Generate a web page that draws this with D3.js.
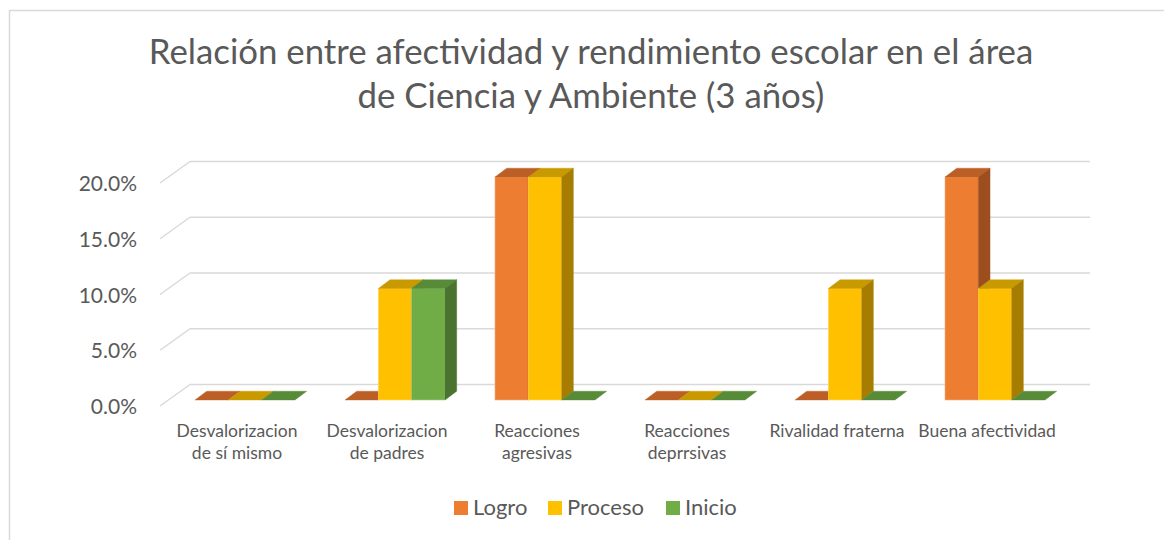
<!DOCTYPE html>
<html>
<head>
<meta charset="utf-8">
<script src="https://cdn.jsdelivr.net/npm/d3@7"></script>
<style>
  body { margin: 0; background: #fff; }
  svg text { font-family: Lato, "Open Sans", sans-serif; fill: #595959; }
</style>
</head>
<body>
<script>
// chart data
const categories = ["Desvalorizacion de sí mismo", "Desvalorizacion de padres", "Reacciones agresivas",
   "Reacciones deprrsivas", "Rivalidad fraterna", "Buena afectividad"];
const seriesNames = ["Logro", "Proceso", "Inicio"];
const logro = [0, 0, 0.2, 0, 0, 0.2];
const proceso = [0, 0.1, 0.2, 0, 0.1, 0.1];
const inicio = [0, 0.1, 0, 0, 0, 0];
const yTicks = [0, 0.05, 0.1, 0.15, 0.2];
const titleLines = ["Relación entre afectividad y rendimiento escolar en el área", "de Ciencia y Ambiente (3 años)"];

const colors = {
   Logro: { front: "#ED7D31", top: "#BB5F27", side: "#9C4E1E", edge: "#F4B183" },
   Proceso: { front: "#FFC000", top: "#C99A00", side: "#A67D00", edge: "#FFD966" },
   Inicio: { front: "#70AD47", top: "#578B37", side: "#4A7330", edge: "#A9D18E" }
};

const values = { Logro: logro, Proceso: proceso, Inicio: inicio };

const width = 1164, height = 540;

const svg = d3.select("body").append("svg")
   .attr("width", width)
   .attr("height", height);

// outer chart border
svg.append("rect")
   .attr("x", 9.5).attr("y", 10.5)
   .attr("width", 1300).attr("height", 700)
   .attr("fill", "none")
   .attr("stroke", "#d9d9d9")
   .attr("stroke-width", 1.5);

// title
svg.append("text")
   .attr("x", 591).attr("y", 64)
   .attr("text-anchor", "middle")
   .style("font-size", "34.8px")
   .selectAll("tspan")
   .data(titleLines)
   .enter().append("tspan")
   .attr("x", 591)
   .attr("dy", (d, i) => i === 0 ? 0 : 44)
   .text(d => d);

// scales (bar front plane)
const x0 = d3.scaleBand().domain(categories).range([170, 1070]).paddingInner(0).paddingOuter(0);
const x1 = d3.scaleBand().domain(seriesNames).range([25, x0.bandwidth() - 25]);
const y = d3.scaleLinear().domain([0, 0.2]).range([400, 177]);

// depth offsets relative to the bar front plane
const frontOff = [-8, 6];
const backOff = [20, -15.5];
const barDepth = [11.7, -8.8];

// walls / gridlines
const grid = svg.append("g");
yTicks.forEach(t => {
   const yy = y(t);
   // back wall
   grid.append("line")
      .attr("x1", x0.range()[0] + backOff[0]).attr("y1", yy + backOff[1])
      .attr("x2", x0.range()[1] + backOff[0]).attr("y2", yy + backOff[1])
      .attr("stroke", "#d9d9d9").attr("stroke-width", 1.5);
   // side wall
   grid.append("line")
      .attr("x1", x0.range()[0] + frontOff[0] - 2).attr("y1", yy + frontOff[1])
      .attr("x2", x0.range()[0] + backOff[0]).attr("y2", yy + backOff[1])
      .attr("stroke", "#d9d9d9").attr("stroke-width", 1.5);
});

// y axis labels
svg.append("g").selectAll("text")
   .data(yTicks)
   .enter().append("text")
   .attr("x", 137)
   .attr("y", d => y(d) + frontOff[1] + 8)
   .attr("text-anchor", "end")
   .style("font-size", "21px")
   .text(d => (d * 100).toFixed(1) + "%");

// bars, drawn left to right so later bars hide earlier side faces
const bars = svg.append("g");
categories.forEach((cat, ci) => {
   seriesNames.forEach(s => {
      const v = values[s][ci];
      const c = colors[s];
      const bx = x0(cat) + x1(s);
      const bw = x1.bandwidth();
      const top = y(v), bottom = y(0);
      const [dx, dy] = barDepth;
      const g = bars.append("g");
      // front
      g.append("rect")
         .attr("x", bx).attr("y", top)
         .attr("width", bw).attr("height", Math.max(0, bottom - top))
         .attr("fill", c.front)
         .attr("stroke", c.edge).attr("stroke-width", 0.6);
      // top
      g.append("path")
         .attr("d", `M${bx},${top} L${bx + dx},${top + dy} L${bx + bw + dx},${top + dy} L${bx + bw},${top} Z`)
         .attr("fill", c.top)
         .attr("stroke", c.top).attr("stroke-width", 0.4);
      // side
      if (v > 0) {
         g.append("path")
            .attr("d", `M${bx + bw},${top} L${bx + bw + dx},${top + dy} L${bx + bw + dx},${bottom + dy} L${bx + bw},${bottom} Z`)
            .attr("fill", c.side)
            .attr("stroke", c.side).attr("stroke-width", 0.4);
      }
   });
});

// category labels (wrapped to band width)
const catLabels = svg.append("g");
const wrapWidth = 139.5;
categories.forEach(cat => {
   const cx = x0(cat) + x0.bandwidth() / 2 + frontOff[0];
   const t = catLabels.append("text")
      .attr("x", cx).attr("y", 437)
      .attr("text-anchor", "middle")
      .style("font-size", "17.5px");
   const words = cat.split(" ");
   let line = [], lines = [];
   const probe = t.append("tspan");
   words.forEach(w => {
      const test = line.concat([w]).join(" ");
      probe.text(test);
      if (probe.node().getComputedTextLength() > wrapWidth && line.length) {
         lines.push(line.join(" "));
         line = [w];
      } else {
         line.push(w);
      }
   });
   lines.push(line.join(" "));
   probe.remove();
   t.selectAll("tspan")
      .data(lines)
      .enter().append("tspan")
      .attr("x", cx)
      .attr("dy", (d, i) => i === 0 ? 0 : 21.5)
      .text(d => d);
});

// legend
const legendX = [454, 548, 666];
const legend = svg.append("g");
seriesNames.forEach((s, i) => {
   legend.append("rect")
      .attr("x", legendX[i]).attr("y", 501)
      .attr("width", 14).attr("height", 14)
      .attr("fill", colors[s].front);
   legend.append("text")
      .attr("x", legendX[i] + 19).attr("y", 515)
      .style("font-size", "22px")
      .text(s);
});
</script>
</body>
</html>
